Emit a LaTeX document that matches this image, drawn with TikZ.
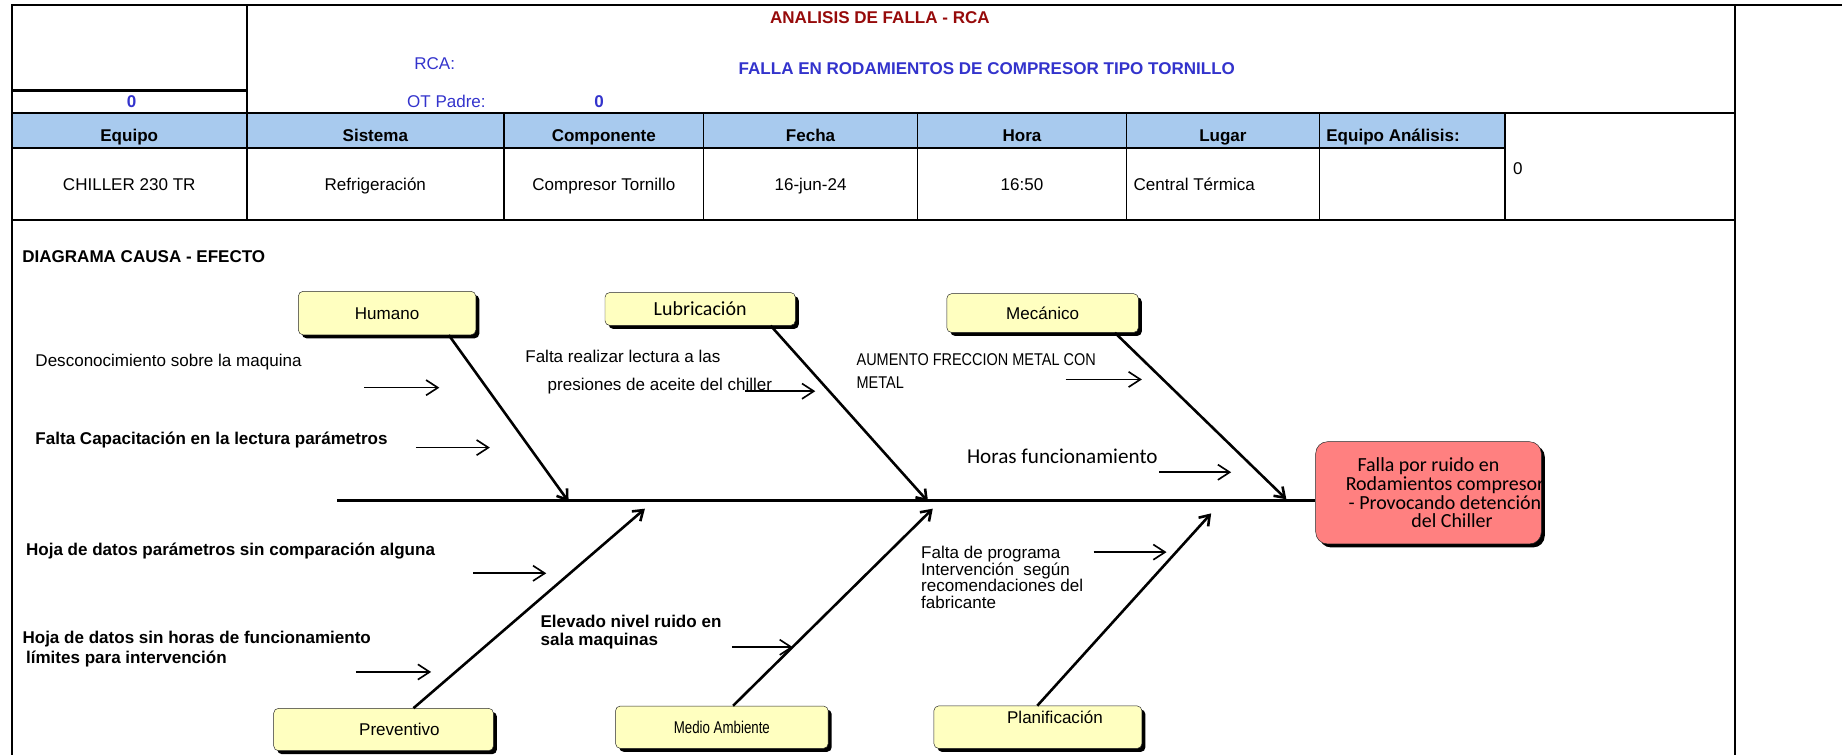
\documentclass[tikz,border=0pt]{standalone}
\usepackage{fontspec}
\setmainfont{Liberation Sans}
\newfontfamily\calib{Carlito}
\newfontfamily\narrowfont[FakeStretch=0.85]{Liberation Sans}
\usepackage{tikz}
\usetikzlibrary{arrows.meta,shadows,positioning}

\definecolor{catyellow}{RGB}{255,255,192}
\definecolor{effred}{RGB}{255,128,128}
\definecolor{hdrblue}{RGB}{168,202,238}
\definecolor{titlered}{RGB}{150,10,10}
\definecolor{rcablue}{RGB}{51,51,204}

\begin{document}
\begin{tikzpicture}[x=1pt,y=-1pt,node distance=42pt]
      \fontsize{14.5}{16}\selectfont
      \tikzstyle{txt}=[text height=10.5pt,text depth=0pt]
      \tikzstyle{cat}=[txt,rectangle,rounded corners=4pt,draw=black!85,thin,fill=catyellow,
        drop shadow={shadow xshift=3pt,shadow yshift=-3pt,fill=black,opacity=1}]
      \tikzstyle{effbox}=[rectangle,rounded corners=10pt,draw=black!85,thin,fill=effred,
        drop shadow={shadow xshift=3pt,shadow yshift=-3pt,fill=black,opacity=1}]
      \tikzstyle{cause}=[anchor=west,inner sep=0pt]
      \tikzstyle{bone}=[line width=2.2pt,-{Straight Barb[length=8pt,width=11pt]}]
      \tikzstyle{minor}=[line width=1.4pt,-{Straight Barb[length=10pt,width=13pt]}]
      \tikzstyle{frame}=[line width=2pt]
      \tikzstyle{col}=[line width=1pt]

      \useasboundingbox (0,0) rectangle (1568,643);

      % cabecera
      \begin{scope}
        \fill[hdrblue] (10,96) rectangle (1281,126);
        \draw[frame] (1568,4) -- (10,4) -- (10,643);
        \draw[frame] (1477,4) -- (1477,643);
        \draw[frame] (210,4) -- (210,187);
        \draw[frame] (10,77) -- (210,77);
        \draw[frame] (10,96) -- (1477,96);
        \draw[frame] (10,126) -- (1281,126);
        \draw[frame] (10,187) -- (1477,187);
        \draw[frame] (1281,96) -- (1281,187);
        \draw[col] (429,96) -- (429,187);
        \draw[col] (599,96) -- (599,187);
        \draw[col] (781,96) -- (781,187);
        \draw[col] (959,96) -- (959,187);
        \draw[col] (1123,96) -- (1123,187);

        \node[txt,font=\bfseries,text=titlered](title) at (749,15){ANALISIS DE FALLA - RCA};
        \node[txt,text=rcablue](rca) at (370,54){RCA:};
        \node[txt,font=\bfseries,text=rcablue](falla) at (840,58){FALLA EN RODAMIENTOS DE COMPRESOR TIPO TORNILLO};
        \node[txt,font=\bfseries,text=rcablue](cero) at (112,86){0};
        \node[txt,text=rcablue](ot) at (380,86){OT Padre:};
        \node[txt,font=\bfseries,text=rcablue](otval) at (510,86){0};

        \node[txt,font=\bfseries](hEq) at (110,115){Equipo};
        \node[txt,font=\bfseries](hSis) at (319.5,115){Sistema};
        \node[txt,font=\bfseries](hComp) at (514,115){Componente};
        \node[txt,font=\bfseries](hFec) at (690,115){Fecha};
        \node[txt,font=\bfseries](hHora) at (870,115){Hora};
        \node[txt,font=\bfseries](hLug) at (1041,115){Lugar};
        \node[txt,font=\bfseries,anchor=west](hAna) at (1124,115){Equipo Análisis:};

        \node[txt](dEq)[below of=hEq]{CHILLER 230 TR};
        \node[txt](dSis)[below of=hSis]{Refrigeración};
        \node[txt](dComp)[below of=hComp]{Compresor Tornillo};
        \node[txt](dFec)[below of=hFec]{16-jun-24};
        \node[txt](dHora)[below of=hHora]{16:50};
        \node[txt,anchor=west](dLug) at (960,157){Central Térmica};
        \node[txt,anchor=west](dAna) at (1283,143){0};
      \end{scope}

      % diagrama
      \begin{scope}
        \node[txt,font=\bfseries,anchor=west](titDia) at (14,218){DIAGRAMA CAUSA - EFECTO};

        \node[cat,minimum width=151pt,minimum height=37pt](hum) at (329.5,266.5){Humano};
        \node[cat,minimum width=162pt,minimum height=28pt,font=\calib\fontsize{17}{18}\selectfont](lub) at (596,263){Lubricación};
        \node[cat,minimum width=163pt,minimum height=33pt](mec) at (887.5,266.5){Mecánico};
        \node[cat,minimum width=187pt,minimum height=36pt](prev) at (326.5,621){\hspace*{27pt}Preventivo};
        \node[cat,minimum width=181pt,minimum height=36pt](med) at (614.5,619){\scalebox{0.78}[1]{Medio Ambiente}};
        \node[cat,minimum width=177pt,minimum height=36pt,text depth=16pt](plan) at (883.5,619){\hspace*{29pt}Planificación};

        \node[effbox,minimum width=192pt,minimum height=87pt](eff) at (1216,419.5){};
        \node[font=\calib\fontsize{17}{16}\selectfont,align=center](effTxt) at ([xshift=14pt]eff.center)
          {\hspace*{-28pt}Falla por ruido en\\Rodamientos compresor\\ - Provocando detención\\\hspace*{12pt}del Chiller};

        \coordinate (spL) at (287,426);
        \draw[line width=3pt] (spL) -- (spL -| eff.west);

        \coordinate (hEnd) at (484,427);
        \coordinate (lEnd) at (790,427);
        \coordinate (mEnd) at (1095,425);
        \coordinate (pEnd) at (549,433);
        \coordinate (aEnd) at (794,433);
        \coordinate (fEnd) at (1031,437);

        \draw[bone] ([xshift=52.5pt]hum.south) -- (hEnd);
        \draw[bone] ([xshift=60pt]lub.south) -- (lEnd);
        \draw[bone] ([xshift=61.5pt]mec.south) -- (mEnd);
        \draw[bone] ([xshift=25.5pt]prev.north) -- (pEnd);
        \draw[bone] ([xshift=9.5pt]med.north) -- (aEnd);
        \draw[bone] ([xshift=-0.5pt]plan.north) -- (fEnd);

        \node[txt,cause](hu1) at (30,307){Desconocimiento sobre la maquina};
        \node[txt,cause,font=\bfseries](hu2) at (30,373){Falta Capacitación en la lectura parámetros};
        \node[txt,cause](lu1) at (447,303){Falta realizar lectura a las};
        \node[txt,cause](lu2) at (466,327){presiones de aceite del chiller};
        \node[cause,align=left,font=\narrowfont\fontsize{14.5}{20}\selectfont](me1) at (729,316){AUMENTO FRECCION METAL CON\\METAL};
        \node[txt,cause,font=\calib\fontsize{18}{20}\selectfont](me2) at (823,389){Horas funcionamiento};
        \node[txt,cause,font=\bfseries](pr1) at (22,468){Hoja de datos parámetros sin comparación alguna};
        \node[cause,align=left,font=\fontsize{14.5}{17}\selectfont\bfseries](pr2) at (19,552.5){Hoja de datos sin horas de funcionamiento\\\hspace*{3pt}límites para intervención};
        \node[cause,align=left,font=\bfseries](ma1) at (460,538){Elevado nivel ruido en\\sala maquinas};
        \node[cause,align=left,font=\fontsize{14.5}{14.3}\selectfont](pl1) at (784,491.5){Falta de programa\\Intervención\ \ según\\recomendaciones del\\fabricante};

        \coordinate (c1a) at (310,330);  \coordinate (c1b) at (374,330);
        \coordinate (c2a) at (354,381);  \coordinate (c2b) at (417,381);
        \coordinate (c3a) at (634,333);  \coordinate (c3b) at (694,333);
        \coordinate (c4a) at (907,323);  \coordinate (c4b) at (972,323);
        \coordinate (c5a) at (987,402);  \coordinate (c5b) at (1048,402);
        \coordinate (c6a) at (403,488);  \coordinate (c6b) at (465,488);
        \coordinate (c7a) at (303,572);  \coordinate (c7b) at (367,572);
        \coordinate (c8a) at (623,551);  \coordinate (c8b) at (675,551);
        \coordinate (c9a) at (931,470);  \coordinate (c9b) at (993,470);

        \path[minor]
        (c1a) edge (c1b)
        (c2a) edge (c2b)
        (c3a) edge (c3b)
        (c4a) edge (c4b)
        (c5a) edge (c5b)
        (c6a) edge (c6b)
        (c7a) edge (c7b)
        (c8a) edge (c8b)
        (c9a) edge (c9b);
      \end{scope}
\end{tikzpicture}
\end{document}
